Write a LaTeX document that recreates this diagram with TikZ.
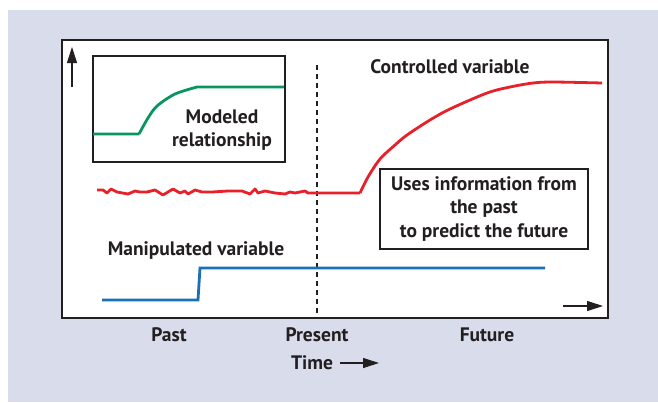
\documentclass[tikz,border=0pt]{standalone}
\usepackage{fontspec}
\setmainfont{PT Sans}
\usetikzlibrary{arrows.meta}
\definecolor{bgfill}{HTML}{D9DCEB}
\definecolor{inkgray}{HTML}{231F20}
\definecolor{ctrlred}{HTML}{E8202A}
\definecolor{modgreen}{HTML}{0A9560}
\definecolor{manblue}{HTML}{1B6FB7}
\tikzset{
  lbl/.style={font=\bfseries\fontsize{19.5}{23.5}\selectfont, text=inkgray, inner sep=0pt},
  frame/.style={draw=inkgray, line width=1.4pt, fill=white, inner sep=0pt},
  curve/.style={line width=2.8pt},
  axarrow/.style={draw=inkgray, line width=1.1pt, -{Triangle[length=16pt,width=10pt]}}
}
\begin{document}
\begin{tikzpicture}[x=1pt, y=-1pt]
    \useasboundingbox (0,0) rectangle (658,402);
    \fill[bgfill] (8,10) rectangle (658,402);
    \node[frame, minimum width=546pt, minimum height=278pt] (plot) at (335,179) {};
    \node[frame, minimum width=192pt, minimum height=106pt] (inset) at (189,109) {};
    \draw[inkgray, line width=1.4pt, dash pattern=on 5pt off 4pt] (317,65) -- (317,318);
    \draw[curve, modgreen] (93,134) -- (139,134) plot[smooth] coordinates {(139,134) (148,118) (157,106) (175,94) (197,87)} -- (284,87);
    \draw[curve, ctrlred, line join=round] plot coordinates {(97,190) (103,190) (107,193) (111,189) (117,192) (128,194) (135,191) (140,192) (147,192) (155,190) (163,195) (173,189) (180,193) (185,191) (188,194) (195,190) (202,192) (212,192) (228,191) (242,191) (250,194) (255,189) (258,193) (265,191) (275,193) (285,194) (290,192) (295,193) (305,191) (308,193)} -- (360,193) plot[smooth] coordinates {(360,193) (368,177) (380,159) (395,145) (407,135) (430,120) (450,109) (487,93) (510,87) (533,83) (553,82) (602,83)};
    \draw[curve, manblue] (102,300) -- (198,300) -- (200,268) -- (545,268);
    \coordinate (ytail) at (72,87);
    \coordinate (yhead) at (72,47);
    \coordinate (xtail) at (563,306);
    \coordinate (xhead) at (603,306);
    \draw[axarrow] (ytail) -- (yhead);
    \draw[axarrow] (xtail) -- (xhead);
    \node[lbl, align=center] (modeled) at (222,130) {Modeled\\relationship};
    \node[lbl] (controlled) at (450,67) {Controlled variable};
    \node[frame, lbl, draw=inkgray, line width=1.2pt, minimum width=208pt, minimum height=80pt, align=center] (uses) at (484,209) {Uses information from\\the past\\to predict the future};
    \node[lbl] (manipulated) at (196,251) {Manipulated variable};
    \node[lbl] (past) at (169,335) {Past};
    \node[lbl] (present) at (317,335) {Present};
    \node[lbl] (future) at (487,335) {Future};
    \node[lbl] (time) at (312,363) {Time};
    \coordinate (thead) at (379,363);
    \draw[axarrow] ([xshift=7pt]time.east) -- (thead);
\end{tikzpicture}
\end{document}
